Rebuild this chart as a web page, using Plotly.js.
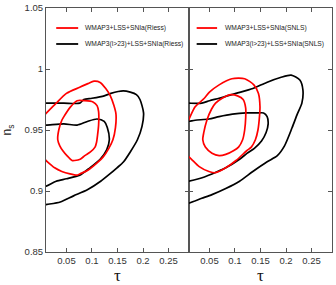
<!DOCTYPE html>
<html>
<head>
<meta charset="utf-8">
<script src="https://cdn.plot.ly/plotly-3.0.1.min.js"></script>
<style>html,body{margin:0;padding:0;background:#fff;}#chart{width:336px;height:285px;}</style>
</head>
<body>
<div id="chart"></div>
<script>
// Tick labels
const tauTicks = [0.05, 0.1, 0.15, 0.2, 0.25];
const tauTickText = ["0.05", "0.1", "0.15", "0.2", "0.25"];
const nsTicks = [0.85, 0.9, 0.95, 1.0, 1.05];
const nsTickText = ["0.85", "0.9", "0.95", "1", "1.05"];

// Legend labels
const leftRedLabel = "WMAP3+LSS+SNIa(Riess)";
const leftBlackLabel = "WMAP3(l>23)+LSS+SNIa(Riess)";
const rightRedLabel = "WMAP3+LSS+SNIa(SNLS)";
const rightBlackLabel = "WMAP3(l>23)+LSS+SNIa(SNLS)";

// Left panel (Riess) contours
const riessBlackOuterTau = [-0.003, 0.010, 0.045, 0.076, 0.084, 0.100, 0.124, 0.137, 0.161, 0.175, 0.187, 0.194, 0.201, 0.198, 0.189, 0.175, 0.162, 0.149, 0.135, 0.117, 0.091, 0.064, 0.038, 0.012, -0.003];
const riessBlackOuterNs  = [0.972, 0.972, 0.972, 0.972, 0.975, 0.976, 0.978, 0.980, 0.982, 0.981, 0.979, 0.975, 0.964, 0.953, 0.942, 0.932, 0.924, 0.919, 0.914, 0.908, 0.901, 0.896, 0.891, 0.889, 0.888];

const riessBlackInnerTau = [-0.003, 0.010, 0.045, 0.071, 0.091, 0.110, 0.124, 0.130, 0.134, 0.129, 0.116, 0.096, 0.076, 0.050, 0.030, 0.010, -0.003];
const riessBlackInnerNs  = [0.954, 0.954, 0.955, 0.954, 0.957, 0.959, 0.957, 0.952, 0.942, 0.934, 0.926, 0.919, 0.913, 0.910, 0.908, 0.904, 0.903];

const riessRedOuterTau = [-0.003, 0.011, 0.030, 0.050, 0.076, 0.092, 0.104, 0.116, 0.127, 0.136, 0.143, 0.147, 0.146, 0.141, 0.133, 0.122, 0.110, 0.092, 0.076, 0.071, 0.057, 0.041, 0.027, 0.010, -0.003];
const riessRedOuterNs  = [0.958, 0.964, 0.972, 0.980, 0.985, 0.988, 0.990, 0.989, 0.984, 0.978, 0.970, 0.963, 0.952, 0.942, 0.935, 0.928, 0.923, 0.917, 0.914, 0.913, 0.914, 0.916, 0.919, 0.925, 0.930];

const riessRedInnerTau = [0.033, 0.035, 0.041, 0.045, 0.058, 0.071, 0.086, 0.102, 0.110, 0.113, 0.113, 0.111, 0.109, 0.106, 0.097, 0.086, 0.077, 0.066, 0.061, 0.051, 0.043, 0.037, 0.033];
const riessRedInnerNs  = [0.942, 0.950, 0.958, 0.961, 0.969, 0.974, 0.974, 0.973, 0.970, 0.965, 0.954, 0.946, 0.940, 0.936, 0.932, 0.929, 0.926, 0.925, 0.925, 0.929, 0.933, 0.937, 0.942];

// Right panel (SNLS) contours
const snlsBlackOuterTau = [-0.010, 0.007, 0.035, 0.050, 0.069, 0.102, 0.135, 0.162, 0.189, 0.210, 0.227, 0.233, 0.231, 0.222, 0.212, 0.197, 0.183, 0.163, 0.135, 0.109, 0.082, 0.055, 0.035, 0.009, -0.010];
const snlsBlackOuterNs  = [0.972, 0.972, 0.972, 0.974, 0.976, 0.980, 0.984, 0.989, 0.993, 0.995, 0.991, 0.983, 0.972, 0.963, 0.952, 0.937, 0.929, 0.924, 0.916, 0.908, 0.902, 0.897, 0.894, 0.890, 0.889];

const snlsBlackInnerTau = [-0.010, 0.007, 0.022, 0.049, 0.069, 0.095, 0.122, 0.144, 0.156, 0.163, 0.165, 0.161, 0.152, 0.138, 0.124, 0.109, 0.082, 0.055, 0.029, 0.009, -0.010];
const snlsBlackInnerNs  = [0.957, 0.957, 0.958, 0.959, 0.961, 0.963, 0.964, 0.964, 0.964, 0.961, 0.955, 0.948, 0.941, 0.935, 0.931, 0.926, 0.919, 0.914, 0.910, 0.908, 0.907];

const snlsRedOuterTau = [-0.002, 0.009, 0.022, 0.040, 0.050, 0.069, 0.094, 0.119, 0.137, 0.146, 0.149, 0.148, 0.145, 0.140, 0.132, 0.123, 0.102, 0.082, 0.062, 0.049, 0.030, 0.015, 0.005, -0.004];
const snlsRedOuterNs  = [0.949, 0.958, 0.969, 0.976, 0.981, 0.987, 0.992, 0.992, 0.987, 0.980, 0.969, 0.961, 0.950, 0.942, 0.936, 0.933, 0.925, 0.919, 0.915, 0.916, 0.920, 0.926, 0.930, 0.934];

const snlsRedInnerTau = [0.037, 0.039, 0.045, 0.054, 0.062, 0.075, 0.092, 0.105, 0.116, 0.121, 0.121, 0.119, 0.115, 0.107, 0.097, 0.082, 0.069, 0.055, 0.042, 0.037];
const snlsRedInnerNs  = [0.942, 0.948, 0.958, 0.967, 0.972, 0.976, 0.979, 0.978, 0.975, 0.968, 0.960, 0.950, 0.942, 0.936, 0.933, 0.930, 0.929, 0.931, 0.936, 0.942];

function line(x, y, color, xa, ya, name) {
  return {
    type: "scatter", mode: "lines", x: x, y: y, xaxis: xa, yaxis: ya, name: name,
    line: {color: color, width: 1.7, shape: "spline", smoothing: 0.7},
    showlegend: false, hoverinfo: "skip"
  };
}

const RED = "#ff0000", BLACK = "#000000";
const data = [
  line(riessBlackOuterTau, riessBlackOuterNs, BLACK, "x", "y", leftBlackLabel),
  line(riessBlackInnerTau, riessBlackInnerNs, BLACK, "x", "y", leftBlackLabel),
  line(riessRedOuterTau, riessRedOuterNs, RED, "x", "y", leftRedLabel),
  line(riessRedInnerTau, riessRedInnerNs, RED, "x", "y", leftRedLabel),
  line(snlsBlackOuterTau, snlsBlackOuterNs, BLACK, "x2", "y2", rightBlackLabel),
  line(snlsBlackInnerTau, snlsBlackInnerNs, BLACK, "x2", "y2", rightBlackLabel),
  line(snlsRedOuterTau, snlsRedOuterNs, RED, "x2", "y2", rightRedLabel),
  line(snlsRedInnerTau, snlsRedInnerNs, RED, "x2", "y2", rightRedLabel)
];

const AX = "#555555";
const tickFont = {family: "Liberation Sans, Arial, sans-serif", size: 9.5, color: "#333"};
function xax(domain, anchor) {
  return {
    domain: domain, anchor: anchor, range: [0.01, 0.29],
    tickvals: tauTicks, ticktext: tauTickText, tickfont: tickFont,
    ticks: "inside", ticklen: 4, tickcolor: AX, tickwidth: 1,
    showline: true, linecolor: AX, linewidth: 1, mirror: "ticks",
    showgrid: false, zeroline: false, fixedrange: true,
    title: {text: "τ", font: {family: "Liberation Serif, Times New Roman, serif", size: 17, color: "#111"}, standoff: 11}
  };
}
function yax(anchor, labels) {
  return {
    anchor: anchor, range: [0.85, 1.05],
    tickvals: nsTicks, ticktext: nsTickText, tickfont: tickFont, showticklabels: labels,
    ticks: "inside", ticklen: 4, tickcolor: AX, tickwidth: 1,
    showline: true, linecolor: AX, linewidth: 1, mirror: "ticks",
    showgrid: false, zeroline: false, fixedrange: true
  };
}

const yaxis = yax("x", true);
yaxis.title = {text: "n<sub>s</sub>", font: {family: "Liberation Sans, Arial, sans-serif", size: 12, color: "#222"}, standoff: 10};
const yaxis2 = yax("x2", false);
yaxis2.matches = "y";

const legFont = {family: "Liberation Sans, Arial, sans-serif", size: 6.7, color: "#222"};
function legendShape(xref, yref, x0, x1, y, color) {
  return {type: "line", xref: xref, yref: yref, x0: x0, x1: x1, y0: y, y1: y, line: {color: color, width: 1.8}};
}
function legendText(xref, yref, x, y, text) {
  return {xref: xref, yref: yref, x: x, y: y, text: text, showarrow: false, xanchor: "left", yanchor: "middle", font: legFont, borderpad: 0};
}

const layout = {
  width: 336, height: 285,
  margin: {l: 46, r: 4, t: 8, b: 33},
  paper_bgcolor: "#fff", plot_bgcolor: "#fff",
  showlegend: false,
  xaxis: xax([0, 0.5], "y"),
  xaxis2: xax([0.5, 1], "y2"),
  yaxis: yaxis,
  yaxis2: yaxis2,
  shapes: [
    legendShape("x", "y", 0.030, 0.073, 1.0336, RED),
    legendShape("x", "y", 0.030, 0.073, 1.0205, BLACK),
    legendShape("x2", "y2", 0.025, 0.065, 1.0336, RED),
    legendShape("x2", "y2", 0.025, 0.065, 1.0205, BLACK)
  ],
  annotations: [
    legendText("x", "y", 0.0845, 1.0336, leftRedLabel),
    legendText("x", "y", 0.0845, 1.0205, leftBlackLabel),
    legendText("x2", "y2", 0.0790, 1.0336, rightRedLabel),
    legendText("x2", "y2", 0.0790, 1.0205, rightBlackLabel)
  ]
};

Plotly.newPlot("chart", data, layout, {staticPlot: true, displayModeBar: false});
</script>
</body>
</html>
